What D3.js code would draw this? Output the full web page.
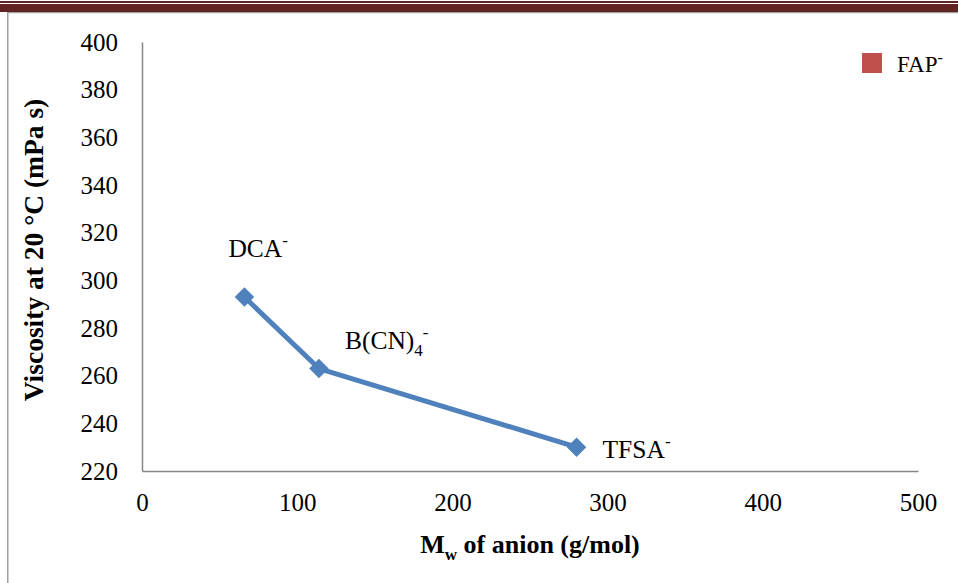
<!DOCTYPE html>
<html>
<head>
<meta charset="utf-8">
<script src="https://cdn.jsdelivr.net/npm/d3@7"></script>
<style>
  html, body { margin: 0; padding: 0; background: #fff; }
  svg { display: block; font-family: "Liberation Serif", "Times New Roman", serif; }
</style>
</head>
<body>
<svg id="chart" width="958" height="583"></svg>
<script>
// Anion molar mass (g/mol) and viscosity at 20 °C (mPa s)
const anions = ["DCA", "B(CN)4", "TFSA"];
const molarMass = [66, 114, 280];
const viscosity = [293, 263, 230];

const xTicks = [0, 100, 200, 300, 400, 500];
const yTicks = [220, 240, 260, 280, 300, 320, 340, 360, 380, 400];

const svg = d3.select("#chart");

// page header rules and left margin rule
svg.append("rect").attr("x", 0).attr("y", 1).attr("width", 958).attr("height", 2).attr("fill", "#622423");
svg.append("rect").attr("x", 0).attr("y", 4).attr("width", 958).attr("height", 8).attr("fill", "#622423");
svg.append("rect").attr("x", 7).attr("y", 12).attr("width", 951).attr("height", 1.2).attr("fill", "#a0a0a0");
svg.append("rect").attr("x", 7).attr("y", 12).attr("width", 1.5).attr("height", 571).attr("fill", "#a0a0a0");

const x = d3.scaleLinear().domain([0, 500]).range([142, 918]);
const y = d3.scaleLinear().domain([220, 400]).range([471, 42]);

// axes
const xAxis = svg.append("g").attr("transform", `translate(0,${y(220)})`)
  .call(d3.axisBottom(x).tickValues(xTicks).tickSize(0).tickPadding(22).tickFormat(d3.format("d")));
const yAxis = svg.append("g").attr("transform", `translate(${x(0)},0)`)
  .call(d3.axisLeft(y).tickValues(yTicks).tickSize(0).tickPadding(24).tickFormat(d3.format("d")));
[xAxis, yAxis].forEach(a => {
  a.select(".domain").attr("stroke", "#868686").attr("stroke-width", 1.5);
  a.selectAll("text").attr("font-family", "Liberation Serif, serif").attr("font-size", 25).attr("fill", "#000");
});

// axis titles
const xt = svg.append("text").attr("x", 530).attr("y", 553).attr("text-anchor", "middle")
  .attr("font-size", 26).attr("font-weight", "bold");
xt.append("tspan").text("M");
xt.append("tspan").attr("font-size", 17).attr("dy", 7).text("w");
xt.append("tspan").attr("dy", -7).text(" of anion (g/mol)");

svg.append("text").attr("transform", `translate(43,250) rotate(-90)`)
  .attr("text-anchor", "middle").attr("font-size", 27.5).attr("font-weight", "bold")
  .text("Viscosity at 20 °C (mPa s)");

// series line and diamond markers
const pts = anions.map((a, i) => ({ name: a, mw: molarMass[i], v: viscosity[i] }));
svg.append("path").datum(pts)
  .attr("fill", "none").attr("stroke", "#4F81BD").attr("stroke-width", 5).attr("stroke-linejoin", "round")
  .attr("d", d3.line().x(d => x(d.mw)).y(d => y(d.v)));
svg.selectAll(".mk").data(pts).join("path").attr("class", "mk")
  .attr("d", d3.symbol(d3.symbolSquare, 190))
  .attr("transform", d => `translate(${x(d.mw)},${y(d.v)}) rotate(45)`)
  .attr("fill", "#4F81BD");

// point labels
const labelPos = [
  { dx: -16, dy: -40 },
  { dx: 26, dy: -20 },
  { dx: 26, dy: 11 }
];
pts.forEach((d, i) => {
  const t = svg.append("text").attr("x", x(d.mw) + labelPos[i].dx).attr("y", y(d.v) + labelPos[i].dy)
    .attr("font-size", 25.5).attr("fill", "#000");
  if (d.name === "B(CN)4") {
    t.append("tspan").text("B(CN)");
    t.append("tspan").attr("font-size", 17).attr("dy", 7).text("4");
    t.append("tspan").attr("font-size", 17).attr("dy", -18).text("-");
  } else {
    t.append("tspan").text(d.name);
    t.append("tspan").attr("font-size", 17).attr("dy", -11).text("-");
  }
});

// legend
svg.append("rect").attr("x", 862).attr("y", 53).attr("width", 20).attr("height", 20).attr("fill", "#C0504D");
const lg = svg.append("text").attr("x", 897).attr("y", 72).attr("font-size", 23).attr("fill", "#000");
lg.append("tspan").text("FAP");
lg.append("tspan").attr("font-size", 16).attr("dy", -9).text("-");
</script>
</body>
</html>
